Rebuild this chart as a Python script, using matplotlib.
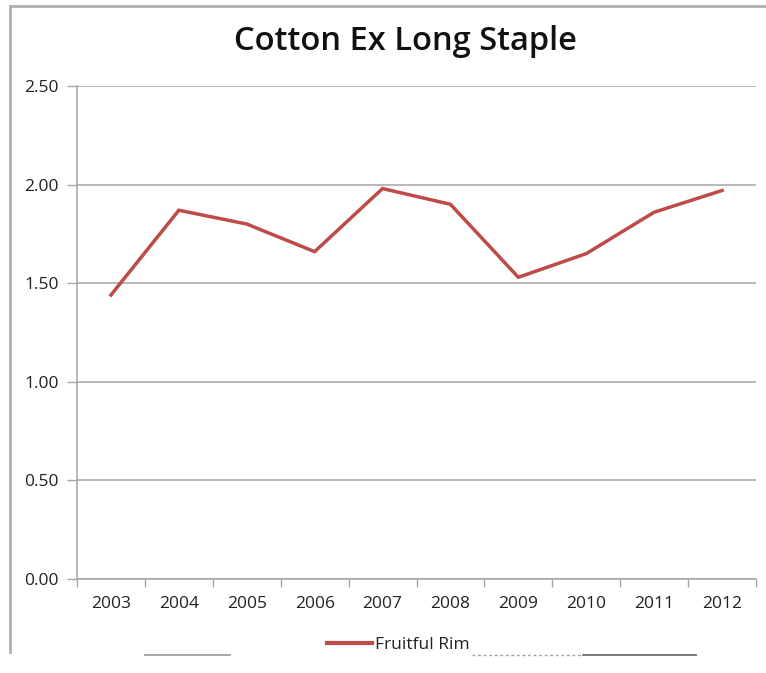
import matplotlib
matplotlib.use('Agg')
import matplotlib.pyplot as plt
from matplotlib.lines import Line2D

YEARS = ['2003', '2004', '2005', '2006', '2007', '2008', '2009', '2010', '2011', '2012']
FRUITFUL_RIM = [1.44, 1.87, 1.80, 1.66, 1.98, 1.90, 1.53, 1.65, 1.86, 1.97]
Y_TICKS = [0.0, 0.5, 1.0, 1.5, 2.0, 2.5]

plt.rcParams['font.family'] = ['Open Sans', 'DejaVu Sans']

W, H = 766, 673
fig = plt.figure(figsize=(W / 100, H / 100), dpi=100)
ax = fig.add_axes([77 / W, 1 - 579 / H, (756 - 77) / W, (579 - 86) / H])

grid_c = '#a6a6a6'
text_c = '#222222'
x = list(range(len(YEARS)))
ax.plot(x, FRUITFUL_RIM, color='#be4b48', linewidth=2.5, solid_joinstyle='miter',
        label='Fruitful Rim', zorder=3)

ax.set_xlim(-0.5, len(YEARS) - 0.5)
ax.set_ylim(0, 2.5)
ax.set_yticks(Y_TICKS)
ax.set_yticklabels([f'{v:.2f}' for v in Y_TICKS])
ax.set_xticks(x)
ax.set_xticklabels(YEARS)
ax.set_xticks([i + 0.5 for i in range(-1, len(YEARS))], minor=True)
ax.tick_params(axis='x', which='major', length=0, pad=12, labelsize=12.5, labelcolor=text_c)
ax.tick_params(axis='x', which='minor', length=6, width=1, color=grid_c)
ax.tick_params(axis='y', length=7, width=1, color=grid_c, pad=6, labelsize=12.5,
               labelcolor=text_c)
for lab in ax.get_xticklabels() + ax.get_yticklabels():
    lab.set_fontweight('medium')

ax.grid(axis='y', color=grid_c, linewidth=1.1)
ax.set_axisbelow(True)
for s in ['top', 'right']:
    ax.spines[s].set_visible(False)
for s in ['left', 'bottom']:
    ax.spines[s].set_color(grid_c)
    ax.spines[s].set_linewidth(1.1)

fig.text(405 / W, 1 - 42 / H, 'Cotton Ex Long Staple', ha='center', va='center',
         fontsize=23.5, fontweight='semibold', color='#111111')

# legend below the plot
leg = fig.legend(handles=[Line2D([], [], color='#be4b48', linewidth=3)], labels=['Fruitful Rim'],
                 loc='center', bbox_to_anchor=(398 / W, 1 - 645 / H), frameon=False,
                 fontsize=12.5, handlelength=2.6, handletextpad=0.15, labelcolor=text_c)
for t in leg.get_texts():
    t.set_fontweight('medium')

# outer chart frame
fig.add_artist(Line2D([10 / W, 1], [1 - 6 / H, 1 - 6 / H], color='#b0b0b0', linewidth=2))
fig.add_artist(Line2D([10 / W, 10 / W], [1 - 6 / H, 1 - 652 / H], color='#b0b0b0', linewidth=2))
fig.add_artist(Line2D([145 / W, 230 / W], [1 - 655 / H, 1 - 655 / H], color='#a0a0a0', linewidth=1.3))
fig.add_artist(Line2D([472 / W, 583 / W], [1 - 655 / H, 1 - 655 / H], color='#a0a0a0',
                      linewidth=1, linestyle=(0, (2, 2))))
fig.add_artist(Line2D([583 / W, 696 / W], [1 - 655 / H, 1 - 655 / H], color='#707070', linewidth=1.3))

fig.savefig('out.png', dpi=100)
